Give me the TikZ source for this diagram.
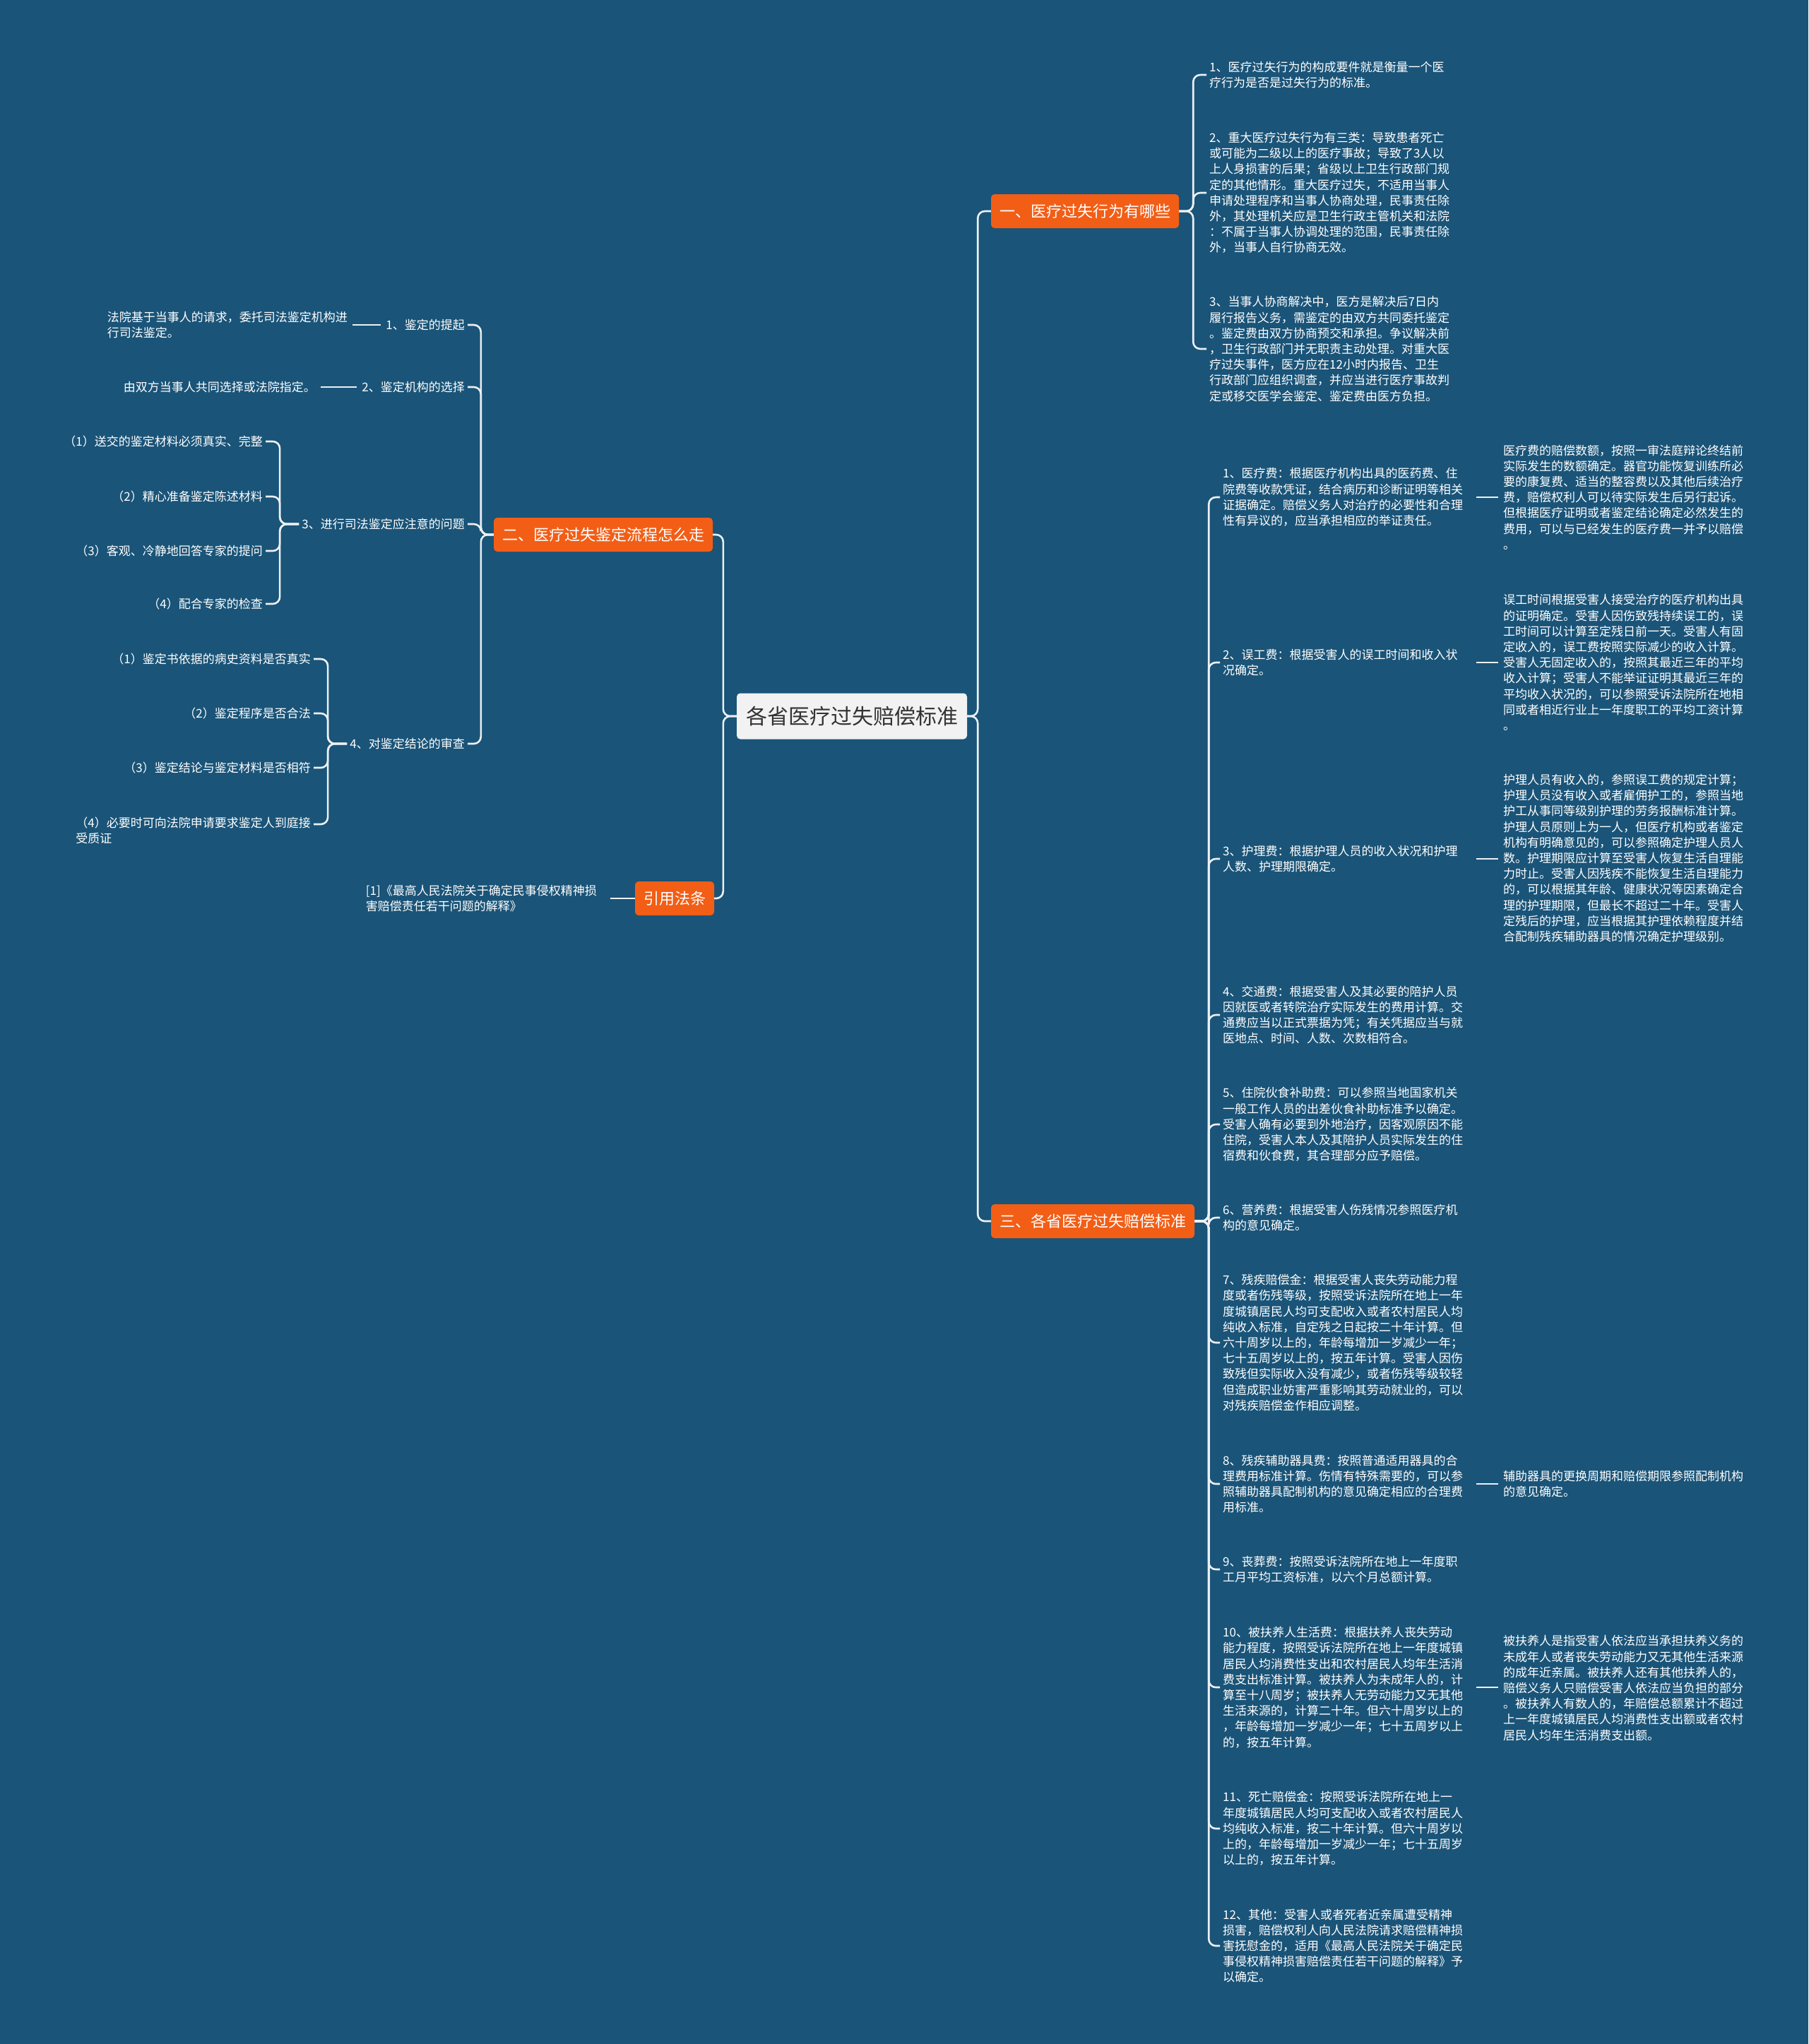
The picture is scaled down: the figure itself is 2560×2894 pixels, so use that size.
\documentclass[tikz,border=0pt]{standalone}
\usepackage{fontspec}
\setmainfont{Noto Sans CJK SC}
\definecolor{nen}{RGB}{26,84,120}
\definecolor{cam}{RGB}{242,94,22}
\definecolor{xam}{RGB}{242,242,242}
\definecolor{chuxam}{RGB}{51,51,51}
\definecolor{day}{RGB}{236,240,244}

\begin{document}
\begin{tikzpicture}[x=1pt, y=-1pt,
    goc/.style={fill=xam, text=chuxam, rounded corners=5pt, minimum height=65pt,
        inner xsep=13pt, font=\fontsize{30}{34}\selectfont},
    nhanh/.style={fill=cam, text=white, rounded corners=5pt, minimum height=48pt,
        inner xsep=12pt, font=\fontsize{22}{26}\selectfont},
    vanban/.style={text=white, align=left, inner xsep=4pt, inner ysep=2pt,
        font=\fontsize{17}{22.2}\selectfont},
    muc/.style={vanban, anchor=west, text width=352pt},
    chitiet/.style={vanban, anchor=west},
    trai/.style={vanban, anchor=east, align=right},
    noi/.style={draw=day, line width=2.6pt, rounded corners=10pt},
    ngan/.style={noi, shorten <=3pt, shorten >=3pt}]
    % 1. Nền
    \fill[nen] (0,0) rectangle (2560,2894);
    \useasboundingbox (0,0) rectangle (2560,2894);

    % 2. Nút gốc và các nhánh chính
    \node[goc] (goc) at (1206,1014) {各省医疗过失赔偿标准};
    \node[nhanh] (b1) at (1536,299) {一、医疗过失行为有哪些};
    \node[nhanh] (b3) at (1547,1729) {三、各省医疗过失赔偿标准};
    \node[nhanh] (b2) at (854,757) {二、医疗过失鉴定流程怎么走};
    \node[nhanh] (b4) at (955,1272) {引用法条};
    \draw[noi] (goc.east) -- ++(15,0) |- (b1.west);
    \draw[noi] (goc.east) -- ++(15,0) |- (b3.west);
    \draw[noi] (goc.west) -- ++(-19,0) |- (b2.east);
    \draw[noi] (goc.west) -- ++(-19,0) |- (b4.east);

    % 3. Nhánh một
    \node[chitiet] (a1) at (1708,106) {1、医疗过失行为的构成要件就是衡量一个医\\疗行为是否是过失行为的标准。};
    \node[chitiet] (a2) at (1708,273) {2、重大医疗过失行为有三类：导致患者死亡\\或可能为二级以上的医疗事故；导致了3人以\\上人身损害的后果；省级以上卫生行政部门规\\定的其他情形。重大医疗过失，不适用当事人\\申请处理程序和当事人协商处理，民事责任除\\外，其处理机关应是卫生行政主管机关和法院\\：不属于当事人协调处理的范围，民事责任除\\外，当事人自行协商无效。};
    \node[chitiet] (a3) at (1708,494) {3、当事人协商解决中，医方是解决后7日内\\履行报告义务，需鉴定的由双方共同委托鉴定\\。鉴定费由双方协商预交和承担。争议解决前\\，卫生行政部门并无职责主动处理。对重大医\\疗过失事件，医方应在12小时内报告、卫生\\行政部门应组织调查，并应当进行医疗事故判\\定或移交医学会鉴定、鉴定费由医方负担。};
    \foreach \i in {1,2,3}
        \draw[noi] (b1.east) -- ++(20,0) |- (a\i.west);

    % 4. Nhánh hai
    \node[trai] (p1) at (662,460) {1、鉴定的提起};
    \node[trai] (p2) at (662,548) {2、鉴定机构的选择};
    \node[trai] (p3) at (662,742) {3、进行司法鉴定应注意的问题};
    \node[trai] (p4) at (662,1053) {4、对鉴定结论的审查};
    \foreach \i in {1,...,4}
        \draw[noi] (b2.west) -- ++(-18,0) |- (p\i.east);
    \node[trai, align=left] (q1) at (496,460) {法院基于当事人的请求，委托司法鉴定机构进\\行司法鉴定。};
    \node[trai] (q2) at (451,548) {由双方当事人共同选择或法院指定。};
    \draw[ngan] (p1.west) -- (p1.west -| q1.east);
    \draw[ngan] (p2.west) -- (p2.west -| q2.east);
    \node[trai] (p31) at (376,625) {（1）送交的鉴定材料必须真实、完整};
    \node[trai] (p32) at (376,703) {（2）精心准备鉴定陈述材料};
    \node[trai] (p33) at (376,780) {（3）客观、冷静地回答专家的提问};
    \node[trai] (p34) at (376,855) {（4）配合专家的检查};
    \foreach \i in {1,...,4}
        \draw[noi] (p3.west) -- ++(-27,0) |- (p3\i.east);
    \node[trai] (p41) at (444,933) {（1）鉴定书依据的病史资料是否真实};
    \node[trai] (p42) at (444,1010) {（2）鉴定程序是否合法};
    \node[trai] (p43) at (444,1087) {（3）鉴定结论与鉴定材料是否相符};
    \node[trai, align=left] (p44) at (444,1176) {（4）必要时可向法院申请要求鉴定人到庭接\\受质证};
    \foreach \i in {1,2,3}
        \draw[noi] (p4.west) -- ++(-27,0) |- (p4\i.east);
    \draw[noi] (p4.west) -- ++(-27,0) |- ([yshift=9pt]p44.east);

    % 5. Trích dẫn
    \node[trai, align=left] (q4) at (849,1272) {[1]《最高人民法院关于确定民事侵权精神损\\害赔偿责任若干问题的解释》};
    \draw[noi, shorten >=15pt] (b4.west) -- (b4.west -| q4.east);

    % 6. Nhánh ba
    \node[muc] (c1) at (1727,704) {1、医疗费：根据医疗机构出具的医药费、住\\院费等收款凭证，结合病历和诊断证明等相关\\证据确定。赔偿义务人对治疗的必要性和合理\\性有异议的，应当承担相应的举证责任。};
    \node[muc] (c2) at (1727,938) {2、误工费：根据受害人的误工时间和收入状\\况确定。};
    \node[muc] (c3) at (1727,1216) {3、护理费：根据护理人员的收入状况和护理\\人数、护理期限确定。};
    \node[muc] (c4) at (1727,1437) {4、交通费：根据受害人及其必要的陪护人员\\因就医或者转院治疗实际发生的费用计算。交\\通费应当以正式票据为凭；有关凭据应当与就\\医地点、时间、人数、次数相符合。};
    \node[muc] (c5) at (1727,1592) {5、住院伙食补助费：可以参照当地国家机关\\一般工作人员的出差伙食补助标准予以确定。\\受害人确有必要到外地治疗，因客观原因不能\\住院，受害人本人及其陪护人员实际发生的住\\宿费和伙食费，其合理部分应予赔偿。};
    \node[muc] (c6) at (1727,1724) {6、营养费：根据受害人伤残情况参照医疗机\\构的意见确定。};
    \node[muc] (c7) at (1727,1901) {7、残疾赔偿金：根据受害人丧失劳动能力程\\度或者伤残等级，按照受诉法院所在地上一年\\度城镇居民人均可支配收入或者农村居民人均\\纯收入标准，自定残之日起按二十年计算。但\\六十周岁以上的，年龄每增加一岁减少一年；\\七十五周岁以上的，按五年计算。受害人因伤\\致残但实际收入没有减少，或者伤残等级较轻\\但造成职业妨害严重影响其劳动就业的，可以\\对残疾赔偿金作相应调整。};
    \node[muc] (c8) at (1727,2101) {8、残疾辅助器具费：按照普通适用器具的合\\理费用标准计算。伤情有特殊需要的，可以参\\照辅助器具配制机构的意见确定相应的合理费\\用标准。};
    \node[muc] (c9) at (1727,2222) {9、丧葬费：按照受诉法院所在地上一年度职\\工月平均工资标准，以六个月总额计算。};
    \node[muc] (c10) at (1727,2389) {10、被扶养人生活费：根据扶养人丧失劳动\\能力程度，按照受诉法院所在地上一年度城镇\\居民人均消费性支出和农村居民人均年生活消\\费支出标准计算。被扶养人为未成年人的，计\\算至十八周岁；被扶养人无劳动能力又无其他\\生活来源的，计算二十年。但六十周岁以上的\\，年龄每增加一岁减少一年；七十五周岁以上\\的，按五年计算。};
    \node[muc] (c11) at (1727,2589) {11、死亡赔偿金：按照受诉法院所在地上一\\年度城镇居民人均可支配收入或者农村居民人\\均纯收入标准，按二十年计算。但六十周岁以\\上的，年龄每增加一岁减少一年；七十五周岁\\以上的，按五年计算。};
    \node[muc] (c12) at (1727,2755) {12、其他：受害人或者死者近亲属遭受精神\\损害，赔偿权利人向人民法院请求赔偿精神损\\害抚慰金的，适用《最高人民法院关于确定民\\事侵权精神损害赔偿责任若干问题的解释》予\\以确定。};
    \foreach \i in {1,...,12}
        \draw[noi] (b3.east) -- ++(20,0) |- (c\i.west);

    % 7. Chi tiết bên phải
    \node[chitiet] (r1) at (2124,704) {医疗费的赔偿数额，按照一审法庭辩论终结前\\实际发生的数额确定。器官功能恢复训练所必\\要的康复费、适当的整容费以及其他后续治疗\\费，赔偿权利人可以待实际发生后另行起诉。\\但根据医疗证明或者鉴定结论确定必然发生的\\费用，可以与已经发生的医疗费一并予以赔偿\\。};
    \node[chitiet] (r2) at (2124,938) {误工时间根据受害人接受治疗的医疗机构出具\\的证明确定。受害人因伤致残持续误工的，误\\工时间可以计算至定残日前一天。受害人有固\\定收入的，误工费按照实际减少的收入计算。\\受害人无固定收入的，按照其最近三年的平均\\收入计算；受害人不能举证证明其最近三年的\\平均收入状况的，可以参照受诉法院所在地相\\同或者相近行业上一年度职工的平均工资计算\\。};
    \node[chitiet] (r3) at (2124,1215) {护理人员有收入的，参照误工费的规定计算；\\护理人员没有收入或者雇佣护工的，参照当地\\护工从事同等级别护理的劳务报酬标准计算。\\护理人员原则上为一人，但医疗机构或者鉴定\\机构有明确意见的，可以参照确定护理人员人\\数。护理期限应计算至受害人恢复生活自理能\\力时止。受害人因残疾不能恢复生活自理能力\\的，可以根据其年龄、健康状况等因素确定合\\理的护理期限，但最长不超过二十年。受害人\\定残后的护理，应当根据其护理依赖程度并结\\合配制残疾辅助器具的情况确定护理级别。};
    \node[chitiet] (r8) at (2124,2101) {辅助器具的更换周期和赔偿期限参照配制机构\\的意见确定。};
    \node[chitiet] (r10) at (2124,2390) {被扶养人是指受害人依法应当承担扶养义务的\\未成年人或者丧失劳动能力又无其他生活来源\\的成年近亲属。被扶养人还有其他扶养人的，\\赔偿义务人只赔偿受害人依法应当负担的部分\\。被扶养人有数人的，年赔偿总额累计不超过\\上一年度城镇居民人均消费性支出额或者农村\\居民人均年生活消费支出额。};
    \foreach \i in {1,2,3,8,10}
        \draw[ngan] (c\i.east) -- (c\i.east -| r\i.west);
\end{tikzpicture}
\end{document}
